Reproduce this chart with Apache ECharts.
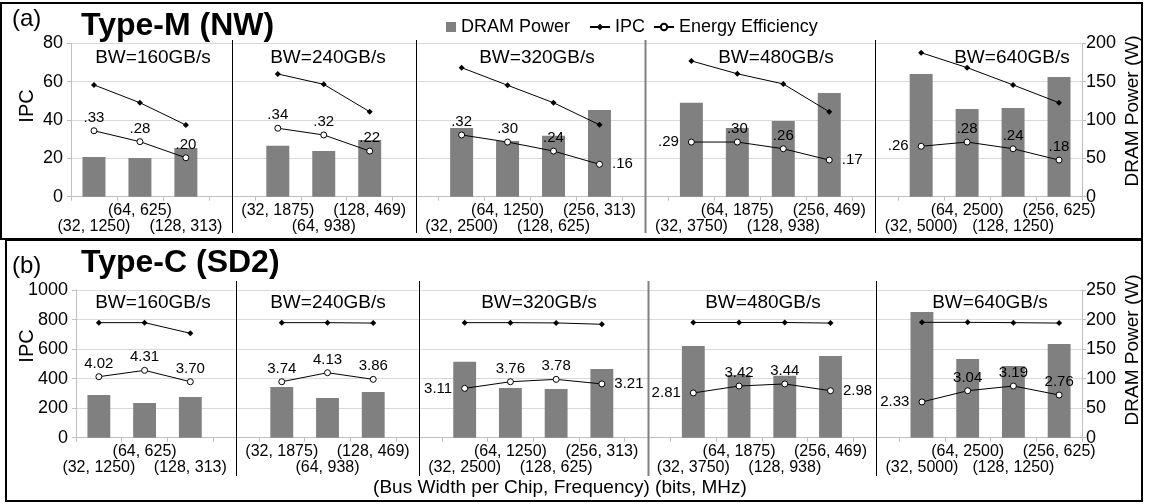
<!DOCTYPE html>
<html>
<head>
<meta charset="utf-8">
<script src="https://cdn.jsdelivr.net/npm/echarts@6.0.0/dist/echarts.min.js"></script>
<style>
  html, body { margin: 0; padding: 0; background: #fff; }
  #chart { width: 1151px; height: 504px; }
</style>
</head>
<body>
<div id="chart"></div>
<script>
// categories: (bus width per chip, frequency); '' = gap between BW groups
const categories = [
  '(32, 1250)', '(64, 625)', '(128, 313)', '',
  '(32, 1875)', '(64, 938)', '(128, 469)', '',
  '(32, 2500)', '(64, 1250)', '(128, 625)', '(256, 313)', '',
  '(32, 3750)', '(64, 1875)', '(128, 938)', '(256, 469)', '',
  '(32, 5000)', '(64, 2500)', '(128, 1250)', '(256, 625)'
];
// which labels sit on the second row
const lowerRow = [1,0,1,0, 0,1,0,0, 1,0,1,0,0, 1,0,1,0,0, 1,0,1,0];
const gapIdx = [3, 7, 12, 17];
const bwTitles = ['BW=160GB/s', 'BW=240GB/s', 'BW=320GB/s', 'BW=480GB/s', 'BW=640GB/s'];

// (a) Type-M (NW)
const powerA = [51.8, 50.4, 63.5, null, 66.5, 59.6, 73.9, null, 89.6, 72.6, 79.5, 113, null,
  122.6, 89.6, 98.7, 135.2, null, 160, 114.4, 115.7, 156.1];
const ipcA = [58.3, 49.0, 37.4, null, 64.0, 58.6, 44.3, null, 67.3, 58.1, 49.0, 37.5, null,
  70.8, 64.1, 58.8, 44.3, null, 75.1, 67.3, 58.3, 49.0];
const eeA = [34.4, 28.7, 20.3, null, 35.7, 32.2, 23.8, null, 32.2, 28.5, 23.8, 16.9, null,
  28.5, 28.5, 25.0, 19.1, null, 26.3, 28.5, 25.0, 19.1];
const eeLabelsA = ['.33', '.28', '.20', '', '.34', '.32', '.22', '', '.32', '.30', '.24', '.16', '',
  '.29', '.30', '.26', '.17', '', '.26', '.28', '.24', '.18'];

// (b) Type-C (SD2)
const powerB = [72.3, 58.7, 68.9, null, 85.8, 67.2, 77.4, null, 128.7, 84.1, 82.4, 116.3, null,
  155.2, 106, 105, 138.3, null, 212.8, 133.2, 121.4, 158.6];
const ipcB = [779, 779, 707, null, 779, 779, 776, null, 779, 779, 777, 768, null,
  780, 780, 780, 776, null, 781, 781, 779, 776];
const eeB = [413, 456, 379, null, 379, 440, 395, null, 334, 379, 395, 364, null,
  303, 350, 364, 318, null, 242, 318, 350, 289];
const eeLabelsB = ['4.02', '4.31', '3.70', '', '3.74', '4.13', '3.86', '', '3.11', '3.76', '3.78', '3.21', '',
  '2.81', '3.42', '3.44', '2.98', '', '2.33', '3.04', '3.19', '2.76'];

const eePosA = {11: 'right', 13: 'left', 16: 'right', 18: 'left'};
const eePosB = {8: 'left', 11: 'right', 13: 'left', 16: 'right', 18: 'left'};

const FONT = 'Liberation Sans, Arial, sans-serif';
const axisGrey = '#bfbfbf';
const gridGrey = '#d9d9d9';

const chart = echarts.init(document.getElementById('chart'));

function xAxisCfg(gridIndex) {
  return {
    type: 'category', gridIndex: gridIndex, data: categories,
    axisLine: {lineStyle: {color: axisGrey}},
    axisTick: {show: true, interval: 0, length: 4, lineStyle: {color: axisGrey}},
    axisLabel: {
      interval: 0, margin: 6, lineHeight: 16, fontSize: 16, color: '#000', fontFamily: FONT,
      formatter: (v, i) => (lowerRow[i] ? '\n' + v : v)
    },
    splitLine: {show: false}
  };
}
function yAxisCfg(gridIndex, max, interval, right) {
  return {
    type: 'value', gridIndex: gridIndex, min: 0, max: max, interval: interval,
    position: right ? 'right' : 'left',
    axisLine: {show: true, lineStyle: {color: axisGrey}},
    axisTick: {show: true, length: 4, lineStyle: {color: axisGrey}},
    axisLabel: {fontSize: 18, color: '#000', fontFamily: FONT, margin: right ? 4 : 8,
      formatter: v => String(v)},
    splitLine: {show: !right, lineStyle: {color: gridGrey}}
  };
}
function barSeries(data, xi, yi) {
  return {
    name: 'DRAM Power', type: 'bar', xAxisIndex: xi, yAxisIndex: yi, data: data,
    barWidth: '50%', itemStyle: {color: '#808080'}
  };
}
function ipcSeries(data, xi, yi) {
  return {
    name: 'IPC', type: 'line', xAxisIndex: xi, yAxisIndex: yi, data: data,
    symbol: 'diamond', symbolSize: 6, itemStyle: {color: '#000'},
    lineStyle: {color: '#000', width: 1}
  };
}
function eeSeries(data, labels, pos, xi, yi) {
  return {
    name: 'Energy Efficiency', type: 'line', xAxisIndex: xi, yAxisIndex: yi,
    data: data.map((v, i) => v == null ? null : {
      value: v,
      label: {position: pos[i] || 'top', distance: pos[i] ? 9 : 2}
    }),
    symbol: 'circle', symbolSize: 6,
    itemStyle: {color: '#fff', borderColor: '#000', borderWidth: 1},
    lineStyle: {color: '#000', width: 1},
    label: {show: true, fontSize: 15, color: '#000', fontFamily: FONT,
      formatter: p => labels[p.dataIndex]}
  };
}

const option = {
  animation: false,
  textStyle: {fontFamily: FONT},
  legend: [
    {data: ['DRAM Power'], left: 441, top: 13, icon: 'rect', itemWidth: 10, itemHeight: 10,
      itemGap: 8, textStyle: {fontSize: 18, color: '#000', fontFamily: FONT}},
    {data: ['IPC', 'Energy Efficiency'], left: 584, top: 13, itemWidth: 20, itemHeight: 8,
      itemGap: 8, textStyle: {fontSize: 18, color: '#000', fontFamily: FONT}}
  ],
  grid: [
    {left: 71, right: 69, top: 43.3, height: 153.4, outerBoundsMode: 'none'},
    {left: 76, right: 69, top: 290, height: 147.7, outerBoundsMode: 'none'}
  ],
  xAxis: [xAxisCfg(0), xAxisCfg(1)],
  yAxis: [
    yAxisCfg(0, 80, 20, false), yAxisCfg(0, 200, 50, true),
    yAxisCfg(1, 1000, 200, false), yAxisCfg(1, 250, 50, true)
  ],
  series: [
    barSeries(powerA, 0, 1), ipcSeries(ipcA, 0, 0), eeSeries(eeA, eeLabelsA, eePosA, 0, 0),
    barSeries(powerB, 1, 3), ipcSeries(ipcB, 1, 2), eeSeries(eeB, eeLabelsB, eePosB, 1, 2)
  ]
};
chart.setOption(option);

// text + frames + group separators
function txt(text, x, y, font, opts) {
  return Object.assign({
    type: 'text', x: x, y: y, silent: true,
    style: {text: text, font: font + ' ' + FONT, fill: '#000', align: (opts && opts.align) || 'center', verticalAlign: 'middle'}
  }, opts && opts.rotation ? {rotation: opts.rotation} : {});
}
function separators(xAxisIndex, y1, y2) {
  return gapIdx.map((g, k) => {
    const x = Math.round(chart.convertToPixel({xAxisIndex: xAxisIndex}, g)) + 0.5;
    return {
      type: 'line', silent: true, z: 10,
      shape: {x1: x, y1: y1, x2: x, y2: y2},
      style: {stroke: k === 2 ? '#808080' : '#000', lineWidth: k === 2 ? 2 : 1}
    };
  });
}
const titleXA = [153, 328, 537, 776, 1012];
const titleXB = [153, 328, 539, 763, 990];
const g = [];
g.push({type: 'rect', silent: true, shape: {x: 1, y: 3, width: 1141, height: 236},
  style: {fill: 'none', stroke: '#000', lineWidth: 2}});
g.push({type: 'rect', silent: true, shape: {x: 6, y: 240, width: 1136, height: 261},
  style: {fill: 'none', stroke: '#000', lineWidth: 2}});
g.push(txt('(a)', 12, 19, '24px', {align: 'left'}));
g.push(txt('Type-M (NW)', 81, 26, 'bold 32px', {align: 'left'}));
g.push(txt('(b)', 12, 266, '24px', {align: 'left'}));
g.push(txt('Type-C (SD2)', 81, 263, 'bold 32px', {align: 'left'}));
bwTitles.forEach((t, i) => {
  g.push(txt(t, titleXA[i], 58, '19px'));
  g.push(txt(t, titleXB[i], 303, '19px'));
});
g.push(txt('IPC', 27, 106, '20px', {rotation: Math.PI / 2}));
g.push(txt('DRAM Power (W)', 1133, 111, '19px', {rotation: Math.PI / 2}));
g.push(txt('IPC', 27, 346, '20px', {rotation: Math.PI / 2}));
g.push(txt('DRAM Power (W)', 1133, 350, '19px', {rotation: Math.PI / 2}));
g.push(txt('(Bus Width per Chip, Frequency) (bits, MHz)', 560, 488, '19px'));
separators(0, 40, 233).forEach(l => g.push(l));
separators(1, 281, 476).forEach(l => g.push(l));
chart.setOption({graphic: g});
</script>
</body>
</html>
